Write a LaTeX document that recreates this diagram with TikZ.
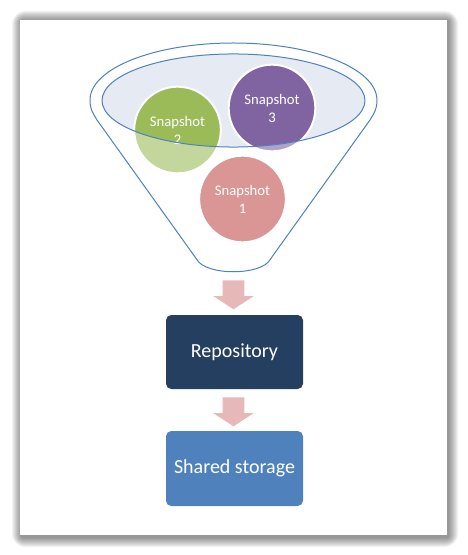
\documentclass[tikz,border=0pt]{standalone}
\usepackage{fontspec}
\setmainfont{Carlito}
\usetikzlibrary{shapes.arrows}
\definecolor{funnelblue}{HTML}{4F81BD}
\definecolor{mouthfill}{HTML}{E5EAF3}
\definecolor{snapred}{HTML}{C0504D}
\definecolor{snapgreen}{HTML}{9BBB59}
\definecolor{snappurple}{HTML}{8064A2}
\definecolor{repoblue}{HTML}{243F60}
\definecolor{storageblue}{HTML}{4F81BD}
\definecolor{arrowpink}{HTML}{E6B9B8}

\begin{document}
\begin{tikzpicture}[x=0.75pt,y=-0.75pt,
		snapshot/.style = {shape=circle, draw=white, line width=1.5pt,
			minimum size=65pt, inner sep=0pt, text=white, align=center,
			font=\fontsize{11}{13.5}\selectfont},
		stepbox/.style = {shape=rectangle, rounded corners=4pt,
			minimum width=102.75pt, minimum height=55.5pt, text=white,
			font=\fontsize{15}{18}\selectfont},
		downarrow/.style = {shape=single arrow, rotate=-90, fill=arrowpink,
			inner xsep=0pt, inner ysep=7.9pt, minimum height=21.75pt,
			single arrow head extend=7.1pt, single arrow tip angle=114}]
	\useasboundingbox (0,0) rectangle (467,555);
	% page with its shadow
	\foreach \d in {1,...,10}
		\fill[black, opacity=0.05, rounded corners=\d pt]
			(20-\d+2,20-\d+1) rectangle (447+\d+1,535+\d+2);
	\fill[white] (20,20) rectangle (447,535);
	% funnel
	\coordinate (mouth) at (233.5,100.5);
	\draw[funnelblue, fill=white, line width=0.75pt] (90,100)
		arc[start angle=180, end angle=0, x radius=107.6pt, y radius=42.75pt]
		.. controls (377,110) and (374,113) .. (370,120) -- (270.5,259)
		.. controls (262,276) and (205,276) .. (196.5,259) -- (97,120)
		.. controls (93,113) and (90,110) .. cycle;
	\fill[mouthfill] (mouth) ellipse[x radius=98.6pt, y radius=34.9pt];
	% snapshots
	\node[snapshot, fill=snapred] (snap1) at (242.5,199) {Snapshot\\1};
	\node[snapshot, fill=snapgreen] (snap2) at (177.5,130) {Snapshot\\2};
	\node[snapshot, fill=snappurple] (snap3) at (272,108) {Snapshot\\3};
	\begin{scope}
		\clip (snap1) circle[radius=34pt] (snap2) circle[radius=34pt]
			(snap3) circle[radius=34pt];
		\fill[white, opacity=0.4, even odd rule] (20,20) rectangle (447,535)
			(mouth) ellipse[x radius=98.6pt, y radius=34.9pt];
	\end{scope}
	\draw[funnelblue, line width=0.75pt] (mouth)
		ellipse[x radius=98.6pt, y radius=34.9pt];
	% flow below the funnel
	\node[downarrow, anchor=tail] (arrow1) at (233.5,280) {};
	\node[stepbox, fill=repoblue] (repo) at (234.5,352) {Repository};
	\node[downarrow, anchor=tail] (arrow2) at (233.5,397) {};
	\node[stepbox, fill=storageblue, minimum height=56.25pt] (storage)
		at (234.5,468.5) {Shared storage};
\end{tikzpicture}
\end{document}
